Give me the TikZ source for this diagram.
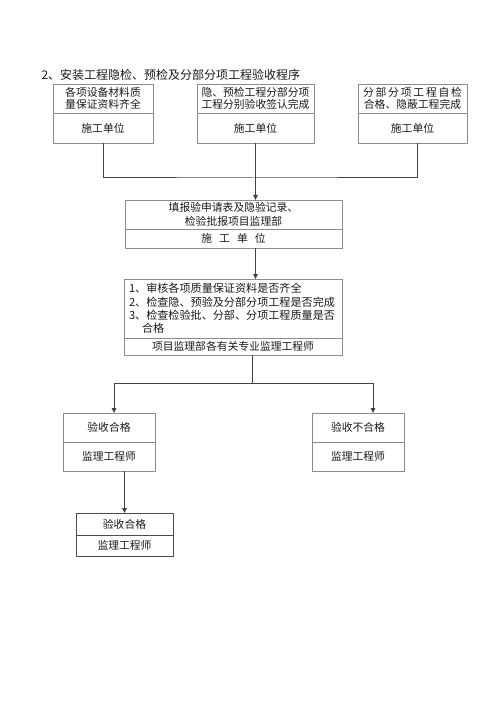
\documentclass[tikz,border=0pt]{standalone}
\usepackage{fontspec}
\setmainfont{Noto Sans CJK SC}
\usepackage{tikz}
\usetikzlibrary{positioning,arrows.meta}

\begin{document}
\begin{tikzpicture}[x=1pt, y=-1pt, node distance=0pt,
    box/.style={rectangle, draw=black!45, line width=0.8pt, outer sep=0pt, inner sep=0pt,
                align=center, text=black!90, font=\fontsize{10.8}{11.5}\selectfont},
    conn/.style={draw=black!75, line width=1pt},
    arrow/.style={conn, -{Triangle[length=5pt,width=4.5pt]}}]
    \useasboundingbox (0,0) rectangle (500,703);

    \node[anchor=west, text=black!90, font=\fontsize{12}{12}\selectfont] (title) at (38,75)
        {2、安装工程隐检、预检及分部分项工程验收程序};

    \node[box, anchor=north west, minimum width=100pt, minimum height=29pt] (1a) at (53,84)
        {各项设备材料质\\量保证资料齐全};
    \node[box, minimum width=100pt, minimum height=30pt, below=of 1a] (1b) {施工单位};

    \node[box, anchor=north west, minimum width=117pt, minimum height=29pt] (2a) at (197,84)
        {隐、预检工程分部分项\\工程分别验收签认完成};
    \node[box, minimum width=117pt, minimum height=30pt, below=of 2a] (2b) {施工单位};

    \node[box, anchor=north west, minimum width=109pt, minimum height=29pt] (3a) at (358,84)
        {分\,部\,分\,项\,工\,程\,自\,检\\合格、隐蔽工程完成};
    \node[box, minimum width=109pt, minimum height=30pt, below=of 3a] (3b) {施工单位};

    \node[box, anchor=north west, minimum width=217pt, minimum height=29pt,
          font=\fontsize{10.8}{14}\selectfont] (4a) at (125,200)
        {填报验申请表及隐验记录、\\检验批报项目监理部};
    \node[box, minimum width=217pt, minimum height=19pt, below=of 4a] (4b)
        {施\hspace{7pt}工\hspace{7pt}单\hspace{7pt}位};

    \node[box, anchor=north west, minimum width=218pt, minimum height=59pt, align=left,
          text width=208pt, inner xsep=5pt, font=\fontsize{11.1}{13.3}\selectfont] (5a) at (124,279)
        {1、审核各项质量保证资料是否齐全\\
         2、检查隐、预验及分部分项工程是否完成\\
         3、检查检验批、分部、分项工程质量是否\\
         \hspace{13pt}合格};
    \node[box, minimum width=218pt, minimum height=17pt, below=of 5a] (5b)
        {项目监理部各有关专业监理工程师};

    \node[box, anchor=north west, minimum width=92pt, minimum height=29pt] (6a) at (63,413) {验收合格};
    \node[box, minimum width=92pt, minimum height=29pt, below=of 6a] (6b) {监理工程师};

    \node[box, anchor=north west, minimum width=92pt, minimum height=29pt] (7a) at (312,413) {验收不合格};
    \node[box, minimum width=92pt, minimum height=29pt, below=of 7a] (7b) {监理工程师};

    \node[box, draw=black!70, anchor=north west, minimum width=97pt, minimum height=22pt] (8a) at (76,513) {验收合格};
    \node[box, draw=black!70, minimum width=97pt, minimum height=21pt, below=of 8a] (8b) {监理工程师};

    \coordinate (join) at (254,178);
    \coordinate (split) at (252,383);

    \draw[conn] (1b.south) |- (join) -| ([xshift=4.5pt]3b.south);
    \draw[arrow] (2b.south) -- (2b.south |- 4a.north);
    \draw[arrow] (4b.south -| 2b.south) -- (5a.north -| 2b.south);
    \draw[conn] (5b.south -| split) -- (split);
    \draw[arrow] (split) -| ([xshift=5pt]6a.north);
    \draw[arrow] (split) -| ([xshift=15pt]7a.north);
    \draw[arrow] (6b.south -| 8a.north) -- (8a.north);
\end{tikzpicture}
\end{document}
